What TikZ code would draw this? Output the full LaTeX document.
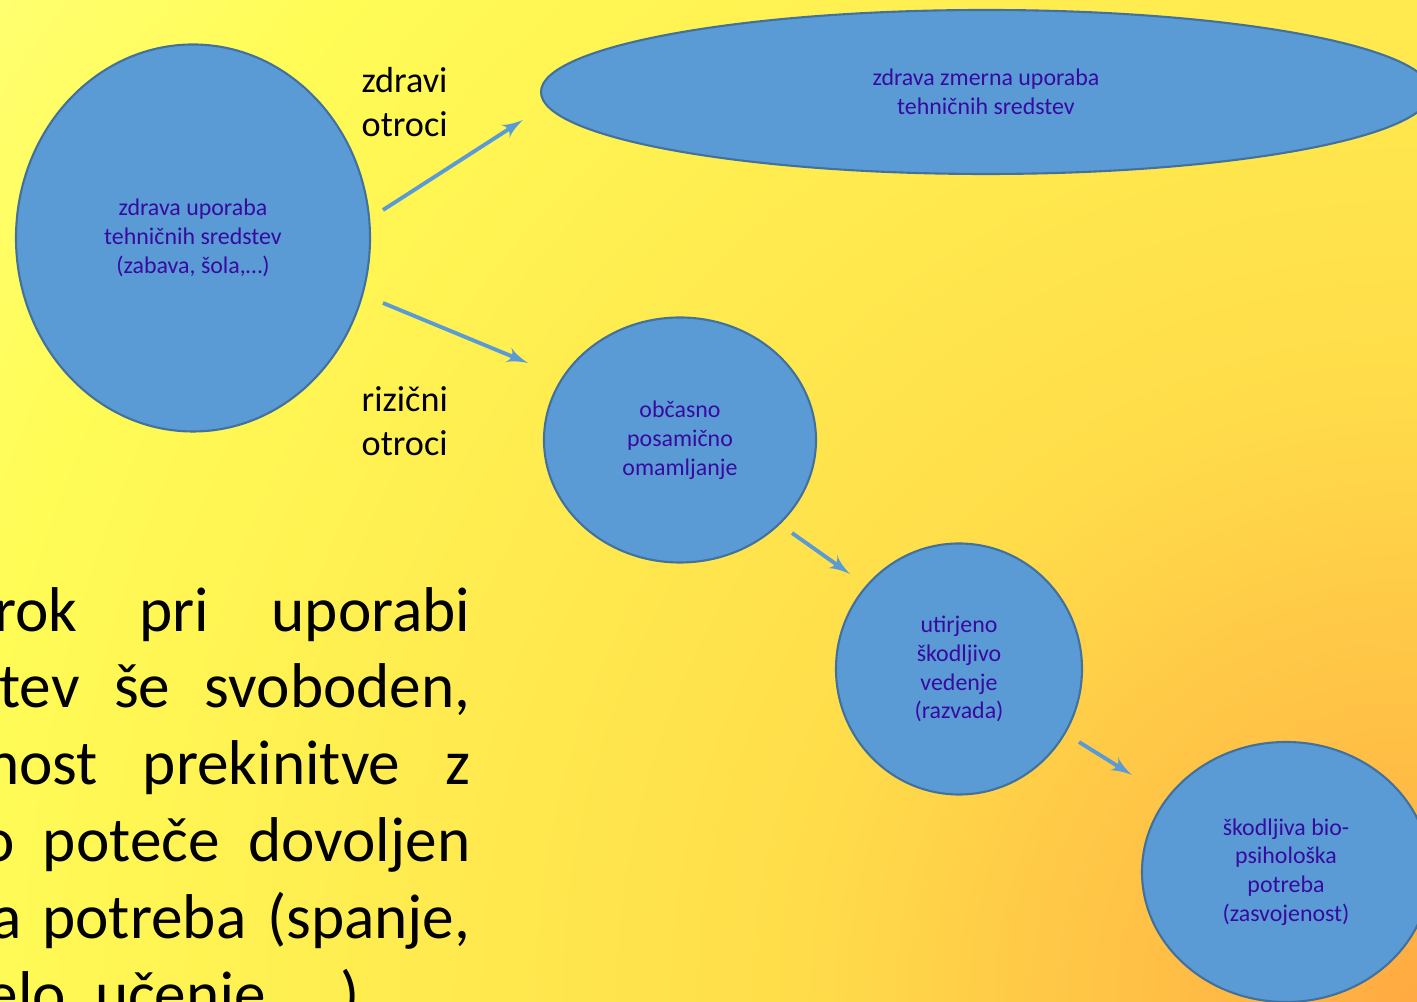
\documentclass[tikz,border=0pt]{standalone}
\usepackage{fontspec}
\setmainfont{Carlito}
\usetikzlibrary{shapes,arrows,positioning}
\definecolor{nodeblue}{RGB}{91,155,213}
\definecolor{nodeedge}{RGB}{65,113,156}
\definecolor{nodetext}{RGB}{55,10,160}
\definecolor{bgtop}{RGB}{255,255,112}
\definecolor{bgpale}{RGB}{255,252,86}
\definecolor{bgmid}{RGB}{255,221,74}
\definecolor{bgbottom}{RGB}{255,170,66}
\pgfdeclareradialshading{bgglow}{\pgfpoint{0bp}{0bp}}{color(0bp)=(bgbottom);
    color(9bp)=(bgmid); color(21bp)=(bgpale); color(25bp)=(bgtop); color(50bp)=(bgtop)}
\tikzstyle{line} = [draw, -latex']
\tikzset{
    every node/.style={font=\fontsize{6.8}{8.2}\selectfont}
}

\begin{document}
\begin{tikzpicture}
            % Define styles for stages and texts
            \tikzstyle{stage} = [ellipse, draw=nodeedge, line width=0.6pt,
                fill=nodeblue, text=nodetext, align=center, inner sep=0pt]
            \tikzstyle{arrow} = [line, draw=nodeblue, line width=1.1pt]
            \tikzstyle{group} = [align=left, inner sep=0pt, anchor=west,
                font=\fontsize{10.3}{12.6}\selectfont]
            \tikzstyle{bigline} = [inner sep=0pt, anchor=base east,
                font=\fontsize{18}{21.8}\selectfont]
            
            % Draw slide background (glow from lower right corner)
            \useasboundingbox (0,0) rectangle (14.17,10.02);
            \clip (0,0) rectangle (14.17,10.02);
            \shade[shading=bgglow] (14.17,0) circle (17.4cm);
            
            % Draw stages
            \node[stage, minimum width=3.54cm, minimum height=3.87cm] (zdrava) at (1.93,7.64)
                {zdrava uporaba\\tehničnih sredstev\\(zabava, šola,…)};
            \node[stage, minimum width=8.9cm, minimum height=1.64cm] (zmerna) at (9.86,9.10)
                {zdrava zmerna uporaba\\tehničnih sredstev};
            \node[stage, minimum width=2.72cm, minimum height=2.45cm] (omam) at (6.80,5.62)
                {občasno\\posamično\\omamljanje};
            \node[stage, minimum width=2.46cm, minimum height=2.51cm] (razvada) at (9.59,3.33)
                {utirjeno\\škodljivo\\vedenje\\(razvada)};
            \node[stage, minimum width=2.88cm, minimum height=2.60cm] (zasvojenost) at (12.86,1.30)
                {škodljiva bio-\\psihološka\\potreba\\(zasvojenost)};
            
            % Draw transitions
            \draw[arrow] ([shift={(1.90,0.28)}]zdrava.center) -- ([shift={(-4.63,-0.28)}]zmerna.center);
            \draw[arrow] ([shift={(1.90,-0.65)}]zdrava.center) -- ([shift={(-1.52,0.77)}]omam.center);
            \draw[arrow] ([shift={(1.12,-0.93)}]omam.center) -- ([shift={(-1.09,0.95)}]razvada.center);
            \draw[arrow] ([shift={(1.20,-0.73)}]razvada.center) -- ([shift={(-1.54,0.97)}]zasvojenost.center);
            
            % Add group labels
            \node[group] (zdravi) at (3.61,9.00) {zdravi\\otroci};
            \node[group] (rizicni) at (3.61,5.81) {rizični\\otroci};
            
            % Add slide text
            \node[bigline] (t1) at (4.71,3.70) {\makebox[4.76cm][s]{rok pri uporabi}};
            \node[bigline] (t2) at (4.71,2.94) {\makebox[4.71cm][s]{tev še svoboden,}};
            \node[bigline] (t3) at (4.71,2.17) {\makebox[4.84cm][s]{nost prekinitve z}};
            \node[bigline] (t4) at (4.71,1.40) {\makebox[4.89cm][s]{o poteče dovoljen}};
            \node[bigline] (t5) at (4.71,0.63) {\makebox[4.79cm][s]{a potreba (spanje,}};
            \node[bigline, anchor=base west] (t6) at (-0.14,-0.14) {elo, učenje, …)};
        \end{tikzpicture}
\end{document}
